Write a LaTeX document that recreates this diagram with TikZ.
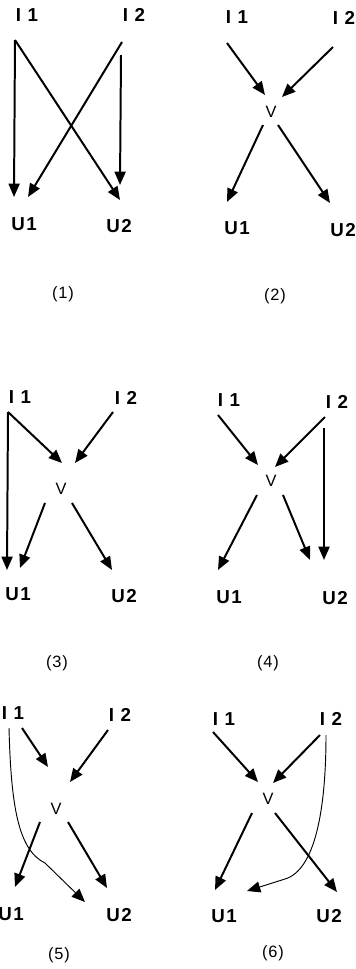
\documentclass[tikz,border=0pt]{standalone}
\usepackage{fontspec}
\setmainfont{Liberation Sans}
\usetikzlibrary{arrows.meta}

\begin{document}
\begin{tikzpicture}[x=0.03cm,y=-0.03cm,
  lab/.style={font=\fontsize{16}{18}\selectfont\bfseries\addfontfeature{LetterSpace=8},inner sep=0pt},
  vx/.style={font=\fontsize{14}{16}\selectfont,inner sep=0pt},
  numlab/.style={font=\fontsize{14}{16}\selectfont\addfontfeature{LetterSpace=5},inner sep=0pt},
  arr/.style={-{Triangle[length=4mm,width=3.3mm]},line width=1.7pt},
  carr/.style={arr,line width=0.8pt}]
\useasboundingbox (0,0) rectangle (355,969);

% ===== (1) =====
\node[lab] (i1a) at (27,15) {I 1};
\node[lab] (i2a) at (134,15) {I 2};
\node[lab] (u1a) at (24,224) {U1};
\node[lab] (u2a) at (119,226) {U2};
\draw[arr] ([shift={(-12,25)}]i1a.center) -- ([shift={(-10,-27)}]u1a.center);
\draw[arr] ([shift={(-12,25)}]i1a.center) -- ([shift={(1,-26)}]u2a.center);
\draw[arr] ([shift={(-12,27)}]i2a.center) -- ([shift={(4,-27)}]u1a.center);
\draw[arr] ([shift={(-13,40)}]i2a.center) -- ([shift={(1,-41)}]u2a.center);

% ===== (2) =====
\node[lab] (i1b) at (237,17) {I 1};
\node[lab] (i2b) at (344,18) {I 2};
\node[vx] (vb) at (271,112) {V};
\node[lab] (u1b) at (237,228) {U1};
\node[lab] (u2b) at (343,230) {U2};
\draw[arr] ([shift={(-10,26)}]i1b.center) -- ([shift={(-6,-17)}]vb.center);
\draw[arr] ([shift={(-11,29)}]i2b.center) -- ([shift={(11,-15)}]vb.center);
\draw[arr] ([shift={(-8,13)}]vb.center) -- ([shift={(-10,-26)}]u1b.center);
\draw[arr] ([shift={(7,13)}]vb.center) -- ([shift={(-13,-27)}]u2b.center);

% ===== (3) =====
\node[lab] (i1c) at (20,397) {I 1};
\node[lab] (i2c) at (126,398) {I 2};
\node[vx] (vc) at (61,489) {V};
\node[lab] (u1c) at (18,594) {U1};
\node[lab] (u2c) at (124,596) {U2};
\draw[arr] ([shift={(-12,15)}]i1c.center) -- ([shift={(-11,-24)}]u1c.center);
\draw[arr] ([shift={(-12,15)}]i1c.center) -- ([shift={(1,-26)}]vc.center);
\draw[arr] ([shift={(-13,14)}]i2c.center) -- ([shift={(14,-26)}]vc.center);
\draw[arr] ([shift={(-16,14)}]vc.center) -- ([shift={(2,-26)}]u1c.center);
\draw[arr] ([shift={(11,14)}]vc.center) -- ([shift={(-12,-26)}]u2c.center);

% ===== (4) =====
\node[lab] (i1d) at (229,400) {I 1};
\node[lab] (i2d) at (337,402) {I 2};
\node[vx] (vd) at (271,481) {V};
\node[lab] (u1d) at (229,597) {U1};
\node[lab] (u2d) at (335,598) {U2};
\draw[arr] ([shift={(-11,15)}]i1d.center) -- ([shift={(-13,-16)}]vd.center);
\draw[arr] ([shift={(-12,15)}]i2d.center) -- ([shift={(4,-14)}]vd.center);
\draw[arr] ([shift={(-14,14)}]vd.center) -- ([shift={(-11,-27)}]u1d.center);
\draw[arr] ([shift={(12,14)}]vd.center) -- ([shift={(-25,-38)}]u2d.center);
\draw[arr] ([shift={(-13,26)}]i2d.center) -- ([shift={(-11,-38)}]u2d.center);

% ===== (5) =====
\node[lab] (i1e) at (13,713) {I 1};
\node[lab] (i2e) at (120,715) {I 2};
\node[vx] (ve) at (56,809) {V};
\node[lab] (u1e) at (11,914) {U1};
\node[lab] (u2e) at (119,915) {U2};
\draw[arr] ([shift={(9,15)}]i1e.center) -- ([shift={(-8,-42)}]ve.center);
\draw[arr] ([shift={(-12,15)}]i2e.center) -- ([shift={(14,-27)}]ve.center);
\draw[arr] ([shift={(-16,13)}]ve.center) -- ([shift={(4,-27)}]u1e.center);
\draw[arr] ([shift={(12,13)}]ve.center) -- ([shift={(-12,-27)}]u2e.center);
\draw[carr] ([shift={(-4,15)}]i1e.center) .. controls +(2,77) and +(-27,-13) .. ++(36,135)
  -- ([shift={(-34,-13)}]u2e.center);

% ===== (6) =====
\node[lab] (i1f) at (224,719) {I 1};
\node[lab] (i2f) at (331,719) {I 2};
\node[vx] (vf) at (268,799) {V};
\node[lab] (u1f) at (224,916) {U1};
\node[lab] (u2f) at (329,916) {U2};
\draw[arr] ([shift={(-11,13)}]i1f.center) -- ([shift={(-10,-17)}]vf.center);
\draw[arr] ([shift={(-11,16)}]i2f.center) -- ([shift={(5,-16)}]vf.center);
\draw[arr] ([shift={(-16,14)}]vf.center) -- ([shift={(-9,-26)}]u1f.center);
\draw[arr] ([shift={(7,14)}]vf.center) -- ([shift={(8,-24)}]u2f.center);
\draw[carr] ([shift={(-5,16)}]i2f.center) .. controls +(0,75) and +(30,-9) .. ++(-41,144)
  -- ([shift={(23,-25)}]u1f.center);

% captions
\foreach \n/\x/\y in {1/63/294,2/275/296,3/57/663,4/268/663,5/59/955,6/273/953}
  \node[numlab] (num\n) at (\x,\y) {(\n)};
\end{tikzpicture}
\end{document}
